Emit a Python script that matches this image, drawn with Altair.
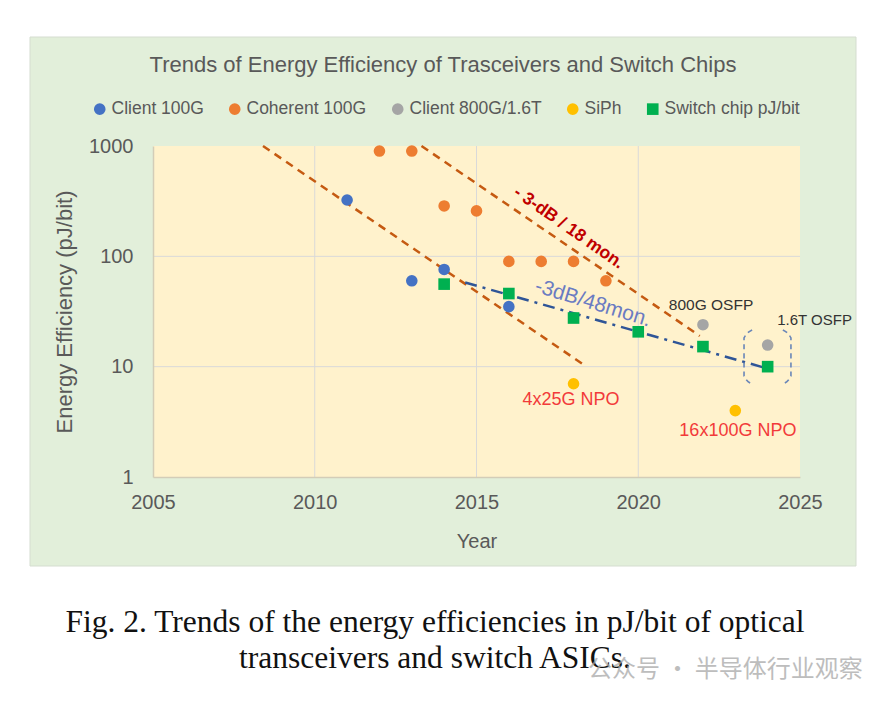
import altair as alt
import pandas as pd

W, H = 647, 331
FONT = "Liberation Sans"

# ---------------- data ----------------
SERIES = ["Client 100G", "Coherent 100G", "Client 800G/1.6T", "SiPh", "Switch chip pJ/bit"]
COLORS = ["#4472C4", "#ED7D31", "#A5A5A5", "#FFC000", "#00B050"]
SHAPES = ["circle", "circle", "circle", "circle", "square"]
SIZES = [135, 135, 55, 135, 150]

CLIENT100_YEAR = [2011, 2013, 2014, 2016]
CLIENT100_VAL = [324, 60, 76, 35]
COHERENT_YEAR = [2012, 2013, 2014, 2015, 2016, 2017, 2018, 2019]
COHERENT_VAL = [900, 900, 286, 258, 90, 90, 90, 60]
C800_YEAR = [2022, 2024]
C800_VAL = [24, 15.7]
SIPH_YEAR = [2018, 2023]
SIPH_VAL = [7, 4]
SWITCH_YEAR = [2014, 2016, 2018, 2020, 2022, 2024]
SWITCH_VAL = [56, 46, 27.6, 20.7, 15.2, 10]

# trend lines (3 dB / 18 months, two of them; 3 dB / 48 months)
TREND1_YEAR = [2008.4, 2018.4]
TREND1_VAL = [1000, 10]
TREND2_YEAR = [2013.3, 2021.9]
TREND2_VAL = [1000, 19]
TREND3_YEAR = [2014.65, 2024.0]
TREND3_VAL = [58, 9.6]

# dashed bracket around 2024 points
BRACKET_L_YEAR = [2023.52, 2023.27, 2023.27, 2023.52]
BRACKET_L_VAL = [21.5, 18.2, 8.2, 6.95]
BRACKET_R_YEAR = [2024.47, 2024.72, 2024.72, 2024.47]
BRACKET_R_VAL = [21.5, 18.2, 8.2, 6.95]

GRID_YEARS = [2010, 2015, 2020]
GRID_VALS = [10, 100]
X_TICKS = [2005, 2010, 2015, 2020, 2025]
Y_TICKS = [1, 10, 100, 1000]

TITLE = "Trends of Energy Efficiency of Trasceivers and Switch Chips"
CAPTION1 = "Fig. 2. Trends of the energy efficiencies in pJ/bit of optical"
CAPTION2 = "transceivers and switch ASICs."
WATERMARK = "公众号 · 半导体行业观察"

ANN_RED = ("- 3-dB / 18 mon.", 2017.85, 181)
ANN_BLUE = ("-3dB/48mon.", 2018.6, 37.5)
ANN_800 = ("800G OSFP", 2022.25, 36)
ANN_16T = ("1.6T OSFP", 2025.45, 26.4)
ANN_NPO1 = ("4x25G NPO", 2017.92, 5.0)
ANN_NPO2 = ("16x100G NPO", 2023.08, 2.62)

# ---------------- tables ----------------
rows = []
for name, ys, vs in [
    (SERIES[0], CLIENT100_YEAR, CLIENT100_VAL),
    (SERIES[1], COHERENT_YEAR, COHERENT_VAL),
    (SERIES[2], C800_YEAR, C800_VAL),
    (SERIES[3], SIPH_YEAR, SIPH_VAL),
    (SERIES[4], SWITCH_YEAR, SWITCH_VAL),
]:
    for yr, v in zip(ys, vs):
        rows.append({"series": name, "year": yr, "value": v})
pts = pd.DataFrame(rows)

dashed = pd.DataFrame(
    [{"trend": "t1", "year": a, "value": b, "o": i} for i, (a, b) in enumerate(zip(TREND1_YEAR, TREND1_VAL))]
    + [{"trend": "t2", "year": a, "value": b, "o": i} for i, (a, b) in enumerate(zip(TREND2_YEAR, TREND2_VAL))]
)
dashdot = pd.DataFrame({"year": TREND3_YEAR, "value": TREND3_VAL})
bracket = pd.DataFrame(
    [{"side": "L", "year": a, "value": b, "o": i} for i, (a, b) in enumerate(zip(BRACKET_L_YEAR, BRACKET_L_VAL))]
    + [{"side": "R", "year": a, "value": b, "o": i} for i, (a, b) in enumerate(zip(BRACKET_R_YEAR, BRACKET_R_VAL))]
)
one = pd.DataFrame({"k": [0]})

xscale = alt.Scale(domain=[2005, 2025], nice=False, zero=False)
yscale = alt.Scale(type="log", domain=[1, 1000], nice=False)

AX_X = alt.Axis(
    values=X_TICKS, format="d", title="Year", grid=False, ticks=False,
    domainColor="#D3CDB8", domainWidth=1.5, labelFont=FONT, labelFontSize=20,
    labelColor="#595959", labelPadding=15, titleFont=FONT, titleFontSize=20,
    titleFontWeight="normal", titleColor="#595959", titlePadding=19, zindex=1,
    labelFlush=False,
)
AX_Y = alt.Axis(
    values=Y_TICKS, format="d", title="Energy Efficiency (pJ/bit)", grid=False, ticks=False,
    domainColor="#D3CDB8", domainWidth=1.5, labelFont=FONT, labelFontSize=20,
    labelColor="#595959", labelPadding=20, titleFont=FONT, titleFontSize=22,
    titleFontWeight="normal", titleColor="#595959", titlePadding=12, zindex=1,
    labelFlush=False,
)

def X(field="year"):
    return alt.X(f"{field}:Q", scale=xscale, axis=AX_X)

def Y(field="value"):
    return alt.Y(f"{field}:Q", scale=yscale, axis=AX_Y)

# ---------------- layers ----------------
green_box = alt.Chart(one).mark_rect(fill="#E2EFDA", stroke="#D5DDD0", strokeWidth=1).encode(
    x=alt.value(-123), x2=alt.value(703), y=alt.value(-109), y2=alt.value(420)
)
plot_bg = alt.Chart(one).mark_rect(fill="#FFF2CC").encode(
    x=alt.value(0), x2=alt.value(W), y=alt.value(0), y2=alt.value(H)
)
vgrid = alt.Chart(pd.DataFrame({"year": GRID_YEARS})).mark_rule(color="#D9D9D9", strokeWidth=1).encode(
    x=X(), y=alt.value(0), y2=alt.value(H)
)
hgrid = alt.Chart(pd.DataFrame({"value": GRID_VALS})).mark_rule(color="#D9D9D9", strokeWidth=1).encode(
    y=Y(), x=alt.value(0), x2=alt.value(W)
)

dashed_lines = alt.Chart(dashed).mark_line(color="#C55A11", strokeWidth=2.5, strokeDash=[8, 6]).encode(
    x=X(), y=Y(), detail="trend:N", order="o:Q"
)
dashdot_line = alt.Chart(dashdot).mark_line(color="#2F5597", strokeWidth=2.5, strokeDash=[12, 6, 3, 6]).encode(
    x=X(), y=Y()
)
bracket_lines = alt.Chart(bracket).mark_line(
    color="#6A86B8", strokeWidth=1.6, strokeDash=[5, 4], interpolate="monotone"
).encode(x=X(), y=Y(), detail="side:N", order="o:Q")

legend = alt.Legend(
    orient="none", legendX=-62, legendY=-46, direction="horizontal", title=None,
    labelFont=FONT, labelFontSize=17.5, labelColor="#595959", symbolSize=100,
    symbolStrokeWidth=0, labelOffset=3, columnPadding=22, zindex=1,
)

points = alt.Chart(pts).mark_point(filled=True, opacity=1, strokeWidth=0).encode(
    x=X(),
    y=Y(),
    color=alt.Color("series:N", scale=alt.Scale(domain=SERIES, range=COLORS), legend=legend),
    shape=alt.Shape("series:N", scale=alt.Scale(domain=SERIES, range=SHAPES), legend=legend),
    size=alt.Size("series:N", scale=alt.Scale(domain=SERIES, range=SIZES), legend=None),
)

def ann(spec, **style):
    t, xv, yv = spec
    df = pd.DataFrame({"t": [t], "year": [xv], "value": [yv]})
    return alt.Chart(df).mark_text(font=FONT, **style).encode(x=X(), y=Y(), text="t:N")

ann_red = ann(ANN_RED, fontSize=17.5, fontWeight="bold", color="#C00000", angle=35)
ann_blue = ann(ANN_BLUE, fontSize=21, color="#6A7BC2", angle=17)
ann_800 = ann(ANN_800, fontSize=15.5, color="#333333")
ann_16t = ann(ANN_16T, fontSize=15, color="#333333")
ann_npo1 = ann(ANN_NPO1, fontSize=18, color="#F23A3A")
ann_npo2 = ann(ANN_NPO2, fontSize=18, color="#F23A3A")

def label(text, x, y, **style):
    df = pd.DataFrame({"t": [text]})
    return alt.Chart(df).mark_text(**style).encode(x=alt.value(x), y=alt.value(y), text="t:N")

title = label(TITLE, 290, -74, font=FONT, fontSize=22, color="#595959", align="center", baseline="alphabetic")
cap1 = label(CAPTION1, 282, 486, font="Liberation Serif", fontSize=31.5, color="#111111", align="center", baseline="alphabetic")
cap2 = label(CAPTION2, 282, 522, font="Liberation Serif", fontSize=31.5, color="#111111", align="center", baseline="alphabetic")
wm = label(WATERMARK, 435, 524, font="Noto Sans CJK SC", fontSize=24, color="#A8A8A8", opacity=0.75, align="left", baseline="middle")

chart = alt.layer(
    green_box, plot_bg, vgrid, hgrid, dashed_lines, dashdot_line, bracket_lines, points,
    ann_red, ann_blue, ann_800, ann_16t, ann_npo1, ann_npo2, title, cap1, cap2, wm,
).properties(
    width=W, height=H,
    autosize=alt.AutoSizeParams(type="none"),
    padding={"left": 145, "top": 138, "right": 82, "bottom": 210},
    background="white",
).configure_view(stroke=None)

chart.save("out.html", embed_options={"renderer": "svg", "actions": False})
